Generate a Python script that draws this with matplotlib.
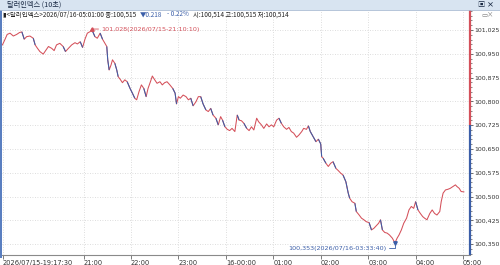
import numpy as np
import matplotlib
matplotlib.use("Agg")
import matplotlib.pyplot as plt
from matplotlib.collections import LineCollection
from matplotlib.patches import Rectangle

plt.rcParams['font.family'] = ['Noto Sans CJK KR', 'DejaVu Sans']

# hours relative to 2026/07/16 00:00 (negative = 15th)
t_hours = [
    -4.71, -4.66, -4.61, -4.55, -4.48, -4.41, -4.35, -4.30, -4.25, -4.20,
    -4.13, -4.06, -4.02, -3.97, -3.92, -3.85, -3.79, -3.74, -3.67, -3.62,
    -3.57, -3.50, -3.43, -3.38, -3.32, -3.25, -3.18, -3.13, -3.07, -3.02,
    -2.97, -2.92, -2.86, -2.83, -2.76, -2.71, -2.65, -2.60, -2.55, -2.51,
    -2.49, -2.46, -2.42, -2.39, -2.34, -2.30, -2.27, -2.22, -2.18, -2.13,
    -2.08, -2.02, -1.97, -1.92, -1.88, -1.83, -1.78, -1.73, -1.68, -1.64,
    -1.59, -1.55, -1.50, -1.45, -1.39, -1.34, -1.29, -1.24, -1.18, -1.12,
    -1.07, -1.04, -1.00, -0.96, -0.90, -0.84, -0.79, -0.74, -0.69, -0.63,
    -0.58, -0.53, -0.48, -0.42, -0.37, -0.32, -0.27, -0.21, -0.16, -0.11,
    -0.07, -0.02, 0.03, 0.08, 0.13, 0.19, 0.24, 0.28, 0.33, 0.38,
    0.44, 0.49, 0.54, 0.59, 0.65, 0.69, 0.75, 0.80, 0.86, 0.91,
    0.96, 1.01, 1.07, 1.12, 1.17, 1.22, 1.28, 1.33, 1.38, 1.43,
    1.49, 1.54, 1.60, 1.64, 1.70, 1.74, 1.78, 1.84, 1.90, 1.95,
    2.00, 2.02, 2.05, 2.11, 2.16, 2.21, 2.26, 2.32, 2.37, 2.42,
    2.47, 2.53, 2.58, 2.61, 2.66, 2.72, 2.75, 2.81, 2.86, 2.91,
    2.96, 3.02, 3.07, 3.12, 3.17, 3.22, 3.26, 3.30, 3.35, 3.40,
    3.45, 3.51, 3.55, 3.561, 3.61, 3.65, 3.70, 3.75, 3.81, 3.86,
    3.91, 3.96, 4.00, 4.05, 4.10, 4.15, 4.19, 4.24, 4.30, 4.35,
    4.40, 4.45, 4.51, 4.54, 4.58, 4.63, 4.68, 4.73, 4.79, 4.84,
    4.87, 4.92, 4.96, 5.017,
]
dxy = [
    100.978, 100.994, 101.011, 101.015, 101.006, 101.011, 101.017, 101.019, 100.996, 101.004,
    101.006, 100.999, 100.978, 100.967, 100.957, 100.949, 100.962, 100.973, 100.967, 100.960,
    100.978, 100.983, 100.973, 100.957, 100.967, 100.978, 100.985, 100.981, 100.988, 100.970,
    100.996, 101.015, 101.020, 101.028, 101.004, 100.999, 101.015, 100.996, 100.983, 100.973,
    100.931, 100.899, 100.915, 100.931, 100.920, 100.899, 100.878, 100.868, 100.859, 100.868,
    100.862, 100.841, 100.826, 100.810, 100.805, 100.831, 100.852, 100.841, 100.815, 100.841,
    100.862, 100.880, 100.868, 100.857, 100.862, 100.852, 100.859, 100.862, 100.852, 100.841,
    100.826, 100.792, 100.815, 100.810, 100.820, 100.815, 100.805, 100.810, 100.786, 100.799,
    100.815, 100.815, 100.792, 100.773, 100.768, 100.778, 100.757, 100.747, 100.726, 100.752,
    100.741, 100.720, 100.712, 100.708, 100.715, 100.705, 100.757, 100.741, 100.739, 100.731,
    100.715, 100.708, 100.720, 100.710, 100.747, 100.736, 100.726, 100.715, 100.729, 100.720,
    100.726, 100.720, 100.741, 100.747, 100.731, 100.720, 100.712, 100.718, 100.705, 100.700,
    100.687, 100.694, 100.705, 100.715, 100.712, 100.723, 100.705, 100.689, 100.673, 100.681,
    100.666, 100.626, 100.621, 100.605, 100.595, 100.605, 100.610, 100.589, 100.582, 100.574,
    100.568, 100.547, 100.511, 100.495, 100.484, 100.479, 100.453, 100.442, 100.432, 100.427,
    100.421, 100.418, 100.395, 100.400, 100.408, 100.416, 100.427, 100.395, 100.387, 100.385,
    100.379, 100.369, 100.358, 100.353, 100.369, 100.379, 100.395, 100.416, 100.432, 100.458,
    100.469, 100.463, 100.484, 100.458, 100.447, 100.437, 100.432, 100.427, 100.447, 100.458,
    100.447, 100.442, 100.453, 100.484, 100.511, 100.521, 100.523, 100.526, 100.532, 100.537,
    100.532, 100.526, 100.516, 100.515,
]

x_ticks = [-4.7083, -3, -2, -1, 0, 1, 2, 3, 4, 5]
x_labels = ["2026/07/15-19:17:30", "21:00", "22:00", "23:00", "16-00:00",
            "01:00", "02:00", "03:00", "04:00", "05:00"]
y_ticks = [100.350, 100.425, 100.500, 100.575, 100.650, 100.725,
           100.800, 100.875, 100.950, 101.025]

max_label = "101,028(2026/07/15-21:10:10)"
min_label = "100,353(2026/07/16-03:33:40)"
info_head = "▮<달러인덱스>2026/07/16-05:01:00 종:100,515"
info_parts = ["▼0.218", "- 0.22%", "시:100,514 고:100,515 저:100,514"]

RED = "#d4505a"
BLUE = "#3b5ea8"
TEXT = "#333333"
GRID = "#d2d2d2"
NUM_FONT = ["DejaVu Sans"]


def comma(v):
    return f"{v:.3f}".replace(".", ",")


t = np.array(t_hours)
v = np.array(dxy)

fig = plt.figure(figsize=(5, 2.65), dpi=100)
fig.patch.set_facecolor("white")

# title bar
fig.add_artist(Rectangle((0, 1 - 9.5 / 265), 1, 9.5 / 265, transform=fig.transFigure,
                         facecolor="#d8e4f1", edgecolor="none"))
fig.add_artist(plt.Line2D([0, 1], [1 - 9.5 / 265] * 2, transform=fig.transFigure,
                          color="#a9bcd3", lw=0.6))
fig.text(7 / 500, 1 - 4.8 / 265, "달러인덱스 (10초)", fontsize=5.2, color="#1a2a44",
         va="center", ha="left")
fig.text(494 / 500, 1 - 4.8 / 265, "▣ ×", fontsize=5.2, color="#1a2a44",
         va="center", ha="right", fontweight="bold")
# left border
fig.add_artist(Rectangle((0, 7 / 265), 2 / 500, (255.5 - 7) / 265,
                         transform=fig.transFigure, facecolor="#5a7fc0", edgecolor="none"))

ax = fig.add_axes([2 / 500, 10 / 265, 468 / 500, 245 / 265])
ax.set_xlim(-4.719, 5.147)
ax.set_ylim(100.316, 101.088)

ax.grid(True, color=GRID, linestyle=(0, (1, 2)), linewidth=0.6)
ax.set_axisbelow(True)

# price line: red base, blue where it falls sharply
pts = np.column_stack([t, v])
segs = np.stack([pts[:-1], pts[1:]], axis=1)
ax.plot(t, v, color=RED, lw=0.75)
drops = [s for s, a, b in zip(segs, v[:-1], v[1:]) if a - b > 0.014]
ax.add_collection(LineCollection(drops, colors=BLUE, linewidths=0.75))

# max / min annotations
imax, imin = int(np.argmax(v)), int(np.argmin(v))
ax.plot(t[imax], v[imax], marker="^", color=RED, markersize=2.5)
ax.annotate(max_label, xy=(t[imax], v[imax]), xytext=(7, 0), textcoords="offset points",
            va="center", ha="left", fontsize=4.6, color=RED, family=NUM_FONT,
            arrowprops=dict(arrowstyle="-", color=RED, lw=0.6, shrinkA=0, shrinkB=0))
ax.plot(t[imin], v[imin], marker="v", color=BLUE, markersize=2.5)
ax.annotate(min_label, xy=(t[imin], v[imin]), xytext=(-6, -3.5), textcoords="offset points",
            va="center", ha="right", fontsize=4.6, color=BLUE, family=NUM_FONT,
            arrowprops=dict(arrowstyle="-", color=BLUE, lw=0.6, shrinkA=0, shrinkB=0,
                            connectionstyle="angle,angleA=0,angleB=90,rad=0"))

# right axis line: red above 100.725, blue below
xr = ax.get_xlim()[1]
ylo, yhi = ax.get_ylim()
ax.plot([xr, xr], [100.725, yhi], color=RED, lw=1.6, clip_on=False, solid_capstyle="butt")
ax.plot([xr, xr], [ylo, 100.725], color=BLUE, lw=1.6, clip_on=False, solid_capstyle="butt")

for s in ["top", "left", "right"]:
    ax.spines[s].set_visible(False)
ax.spines["bottom"].set_color("#8a8a8a")
ax.spines["bottom"].set_linewidth(0.8)

ax.yaxis.tick_right()
ax.set_yticks(y_ticks)
ax.set_yticklabels([comma(y) for y in y_ticks], family=NUM_FONT)
ax.set_yticks(np.arange(100.320, 101.088, 0.015), minor=True)
ax.tick_params(axis="y", which="major", length=2.5, width=0.6, pad=0.6,
               labelsize=4.5, labelcolor=TEXT, color="#555555")
ax.tick_params(axis="y", which="minor", length=1.3, width=0.5, color="#555555")

ax.set_xticks(x_ticks)
ax.set_xticklabels(x_labels, family=NUM_FONT)
for lab in ax.get_xticklabels():
    lab.set_horizontalalignment("left")
ax.tick_params(axis="x", length=3, width=0.6, pad=0.3, labelsize=4.8,
               labelcolor=TEXT, color="#666666")

# info line, pieces chained left to right
iy = 1 - 14.5 / 265
anchor = fig.text(3 / 500, iy, info_head, fontsize=4.6, color="#222222",
                  va="center", ha="left")
for txt, col in zip(info_parts, [BLUE, BLUE, "#222222"]):
    anchor = ax.annotate(txt, xy=(1, 0.5), xycoords=anchor, xytext=(3, 0),
                         textcoords="offset points", va="center", ha="left",
                         fontsize=4.6, color=col, annotation_clip=False)
fig.text(494 / 500, iy, "▭×", fontsize=4.6, color="#777777", va="center", ha="right")

plt.savefig("out.png", dpi=100, facecolor=fig.get_facecolor())
